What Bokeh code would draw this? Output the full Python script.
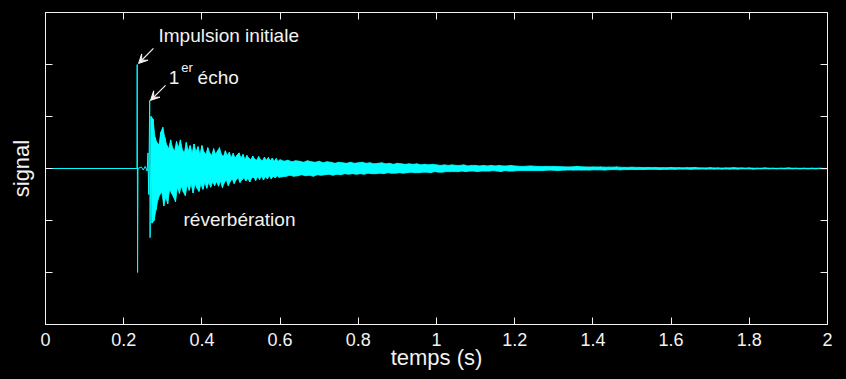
from bokeh.plotting import figure
from bokeh.models import Range1d, LinearAxis, FixedTicker, Label, Arrow, VeeHead, PrintfTickFormatter
from bokeh.embed import file_html
from bokeh.resources import INLINE

# ---- data ----
x_ticks = [0, 0.2, 0.4, 0.6, 0.8, 1.0, 1.2, 1.4, 1.6, 1.8, 2.0]
y_ticks = [-2, -1, 0, 1, 2]

# silent part, initial impulse and first echo
head_t = [0.0, 0.234, 0.2345, 0.2355, 0.2365, 0.245, 0.250, 0.255, 0.260, 0.262, 0.264, 0.2665, 0.2675]
head_v = [0.0, 0.0, 2.0, -2.0, 0.0, 0.03, -0.03, 0.04, -0.05, 0.3, -0.5, 1.31, -1.33]

# reverberation, part A (0.270 s .. 0.595 s, every 5 ms): upper and lower peaks
a_start, a_step = 0.270, 0.005
a_up = [1.0, 0.95, 0.6, 0.5, 0.45, 0.7, 0.79, 0.6, 0.45, 0.38, 0.55, 0.4, 0.33, 0.52, 0.4,
        0.55, 0.36, 0.3, 0.5, 0.34, 0.44, 0.3, 0.47, 0.32, 0.42, 0.27, 0.44, 0.32, 0.27, 0.4,
        0.3, 0.25, 0.38, 0.27, 0.34, 0.4, 0.27, 0.23, 0.34, 0.25, 0.31, 0.21, 0.29, 0.2, 0.26,
        0.3, 0.2, 0.27, 0.18, 0.25, 0.2, 0.17, 0.24, 0.18, 0.16, 0.23, 0.17, 0.15, 0.22, 0.16,
        0.21, 0.15, 0.2, 0.14, 0.19, 0.14]
a_lo = [-1.05, -1.0, -0.8, -0.6, -0.5, -0.45, -0.72, -0.55, -0.68, -0.4, -0.48, -0.55, -0.64, -0.36, -0.48,
        -0.34, -0.45, -0.52, -0.32, -0.42, -0.3, -0.47, -0.3, -0.38, -0.44, -0.3, -0.4, -0.27, -0.38, -0.27,
        -0.36, -0.26, -0.33, -0.25, -0.34, -0.24, -0.37, -0.27, -0.22, -0.33, -0.25, -0.2, -0.29, -0.22, -0.18,
        -0.27, -0.22, -0.18, -0.24, -0.19, -0.26, -0.18, -0.17, -0.23, -0.16, -0.21, -0.15, -0.22, -0.16, -0.2,
        -0.14, -0.2, -0.15, -0.18, -0.14, -0.17]

# part B (0.60 s .. 1.19 s, every 10 ms)
b_start, b_step = 0.60, 0.01
b_up = [0.17, 0.14, 0.16, 0.13, 0.15, 0.14, 0.12, 0.15, 0.13, 0.12, 0.14, 0.11, 0.13, 0.12, 0.1,
        0.12, 0.11, 0.1, 0.12, 0.1, 0.11, 0.12, 0.1, 0.11, 0.09, 0.1, 0.11, 0.09, 0.1, 0.08,
        0.1, 0.09, 0.08, 0.09, 0.08, 0.09, 0.07, 0.08, 0.07, 0.08, 0.07, 0.06, 0.07, 0.06, 0.07,
        0.06, 0.06, 0.07, 0.05, 0.06, 0.06, 0.05, 0.06, 0.05, 0.06, 0.05, 0.06, 0.05, 0.05, 0.06]
b_lo = [-0.16, -0.15, -0.13, -0.15, -0.14, -0.12, -0.14, -0.13, -0.15, -0.12, -0.13, -0.12, -0.11, -0.13, -0.11,
        -0.12, -0.1, -0.11, -0.1, -0.11, -0.1, -0.11, -0.09, -0.1, -0.1, -0.09, -0.1, -0.08, -0.09, -0.09,
        -0.08, -0.09, -0.08, -0.07, -0.08, -0.08, -0.07, -0.07, -0.08, -0.06, -0.07, -0.07, -0.06, -0.06, -0.06,
        -0.06, -0.05, -0.06, -0.05, -0.05, -0.06, -0.05, -0.05, -0.05, -0.04, -0.05, -0.06, -0.04, -0.05, -0.05]

# part C (1.20 s .. 2.00 s, every 20 ms)
c_start, c_step = 1.20, 0.02
c_up = [0.05, 0.04, 0.05, 0.04, 0.04, 0.04, 0.035, 0.03, 0.04, 0.03, 0.03, 0.03, 0.025, 0.03, 0.02,
        0.025, 0.02, 0.02, 0.02, 0.015, 0.02, 0.015, 0.015, 0.02, 0.01, 0.015, 0.01, 0.01, 0.015, 0.01,
        0.01, 0.005, 0.01, 0.005, 0.005, 0.01, 0.005, 0.005, 0.005, 0.005, 0.0]
c_lo = [-0.04, -0.04, -0.04, -0.04, -0.03, -0.04, -0.03, -0.03, -0.03, -0.03, -0.025, -0.03, -0.02, -0.025, -0.02,
        -0.02, -0.02, -0.015, -0.02, -0.015, -0.015, -0.01, -0.015, -0.01, -0.01, -0.01, -0.01, -0.01, -0.01, -0.005,
        -0.01, -0.005, -0.005, -0.005, -0.005, -0.005, -0.005, -0.005, -0.005, -0.005, 0.0]

# ---- build the trace: peaks alternate between upper and lower values ----
sig_t = list(head_t)
sig_v = list(head_v)
up_t, up_v, lo_t, lo_v = [], [], [], []
for start, step, up, lo in [(a_start, a_step, a_up, a_lo),
                            (b_start, b_step, b_up, b_lo),
                            (c_start, c_step, c_up, c_lo)]:
    for k in range(len(up)):
        t = start + k * step
        sig_t.append(t)
        sig_v.append(up[k])
        sig_t.append(t + step / 2)
        sig_v.append(lo[k])
        up_t.append(t)
        up_v.append(up[k])
        lo_t.append(t + step / 2)
        lo_v.append(lo[k])

FONT = "Liberation Sans"
WHITE = "#f2f2f2"
CYAN = "#00ffff"

p = figure(frame_width=782, frame_height=312,
           x_range=Range1d(0, 2), y_range=Range1d(-3, 3),
           output_backend="svg", toolbar_location=None,
           background_fill_color="black", border_fill_color="black",
           outline_line_color=WHITE, outline_line_width=1,
           min_border_left=45, min_border_right=19, min_border_top=12, min_border_bottom=55)
p.grid.visible = False

# filled band between upper and lower peaks, then the trace itself
p.patch(up_t + lo_t[::-1], up_v + lo_v[::-1], fill_color=CYAN, line_color=CYAN, line_width=0.8)
p.line(sig_t, sig_v, line_color=CYAN, line_width=1)

def style_axis(ax, labels):
    ax.major_tick_in = 7
    ax.major_tick_out = 0
    ax.minor_tick_line_color = None
    ax.axis_line_color = WHITE
    ax.major_tick_line_color = WHITE
    ax.major_label_text_font = FONT
    if labels:
        ax.major_label_text_color = WHITE
        ax.major_label_text_font_size = "18px"
    else:
        ax.major_label_text_color = None
        ax.major_label_text_font_size = "1px"
        ax.major_label_standoff = 0

xb = p.xaxis[0]
xb.ticker = FixedTicker(ticks=x_ticks)
xb.formatter = PrintfTickFormatter(format="%g")
style_axis(xb, True)
xb.major_label_standoff = 8
xb.axis_label = "temps (s)"
xb.axis_label_text_font = FONT
xb.axis_label_text_font_size = "22px"
xb.axis_label_text_font_style = "normal"
xb.axis_label_text_color = WHITE
xb.axis_label_standoff = -4

yl = p.yaxis[0]
yl.ticker = FixedTicker(ticks=y_ticks)
style_axis(yl, False)
yl.axis_label = "signal"
yl.axis_label_text_font = FONT
yl.axis_label_text_font_size = "22px"
yl.axis_label_text_font_style = "normal"
yl.axis_label_text_color = WHITE
yl.axis_label_standoff = 12

xt = LinearAxis(ticker=FixedTicker(ticks=x_ticks))
style_axis(xt, False)
p.add_layout(xt, "above")

yr = LinearAxis(ticker=FixedTicker(ticks=y_ticks))
style_axis(yr, False)
p.add_layout(yr, "right")

# ---- annotations ----
def lab(x, y, txt, size="19px"):
    p.add_layout(Label(x=x, y=y, text=txt, text_font=FONT, text_font_size=size,
                       text_color=WHITE, text_baseline="alphabetic", text_align="left"))

lab(0.289, 2.55, "Impulsion initiale")
lab(0.3155, 1.75, "1")
lab(0.347, 1.95, "er", "13px")
lab(0.389, 1.75, "écho")
lab(0.353, -0.98, "réverbération")

for xs, ys, xe, ye in [(0.276, 2.31, 0.238, 2.02), (0.307, 1.60, 0.2685, 1.31)]:
    p.add_layout(Arrow(x_start=xs, y_start=ys, x_end=xe, y_end=ye,
                       line_color=WHITE, line_width=1.2,
                       end=VeeHead(size=9, fill_color=WHITE, line_color=WHITE)))

html = file_html(p, INLINE)
html = html.replace("<head>", "<head><style>html, body {background: #000000;}</style>", 1)
open("out.html", "w").write(html)
